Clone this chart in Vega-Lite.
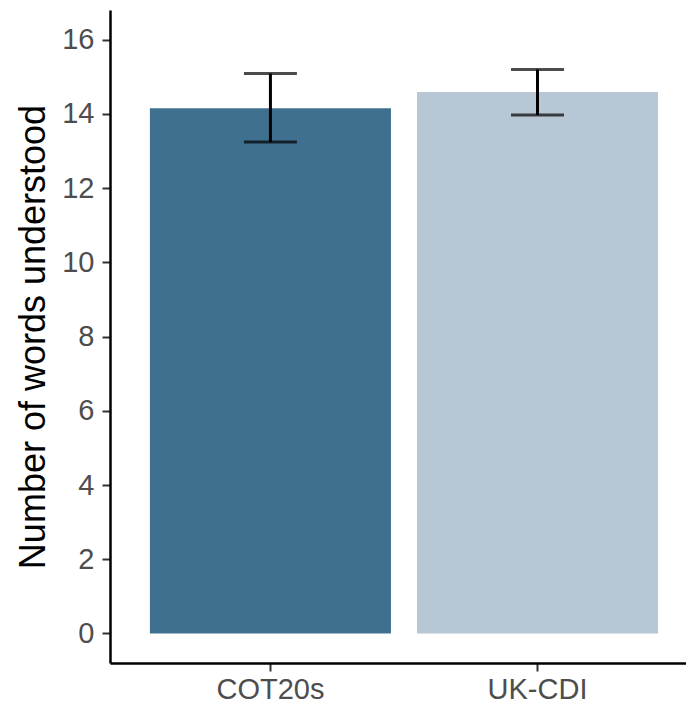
{
  "$schema": "https://vega.github.io/schema/vega-lite/v6.json",
  "width": 576,
  "height": 653,
  "autosize": {"type": "none"},
  "padding": {"left": 110, "top": 10, "right": 0, "bottom": 41},
  "background": "white",
  "config": {
    "view": {"stroke": null},
    "font": "Liberation Sans",
    "axis": {
      "grid": false,
      "domainColor": "#000000",
      "domainWidth": 2.5,
      "tickColor": "#333333",
      "tickWidth": 2,
      "tickSize": 8,
      "labelColor": "#4D4D4D",
      "labelFont": "Liberation Sans",
      "labelFontSize": 29,
      "titleFont": "Liberation Sans",
      "titleFontWeight": "normal",
      "titleColor": "#000000",
      "titleFontSize": 36
    }
  },
  "data": {
    "values": [
      {"group": "COT20s", "mean": 14.15, "lower": 13.24, "upper": 15.09},
      {"group": "UK-CDI", "mean": 14.59, "lower": 13.97, "upper": 15.2}
    ]
  },
  "encoding": {
    "x": {
      "field": "group",
      "type": "nominal",
      "sort": null,
      "scale": {"paddingInner": 0.0974, "paddingOuter": 0.127, "align": 0.588},
      "axis": {"title": null, "labelAngle": 0, "labelPadding": 4}
    }
  },
  "layer": [
    {
      "mark": {"type": "bar"},
      "encoding": {
        "y": {
          "field": "mean",
          "type": "quantitative",
          "scale": {"domain": [-0.795, 16.8], "nice": false, "zero": false},
          "axis": {
            "title": "Number of words understood",
            "values": [0, 2, 4, 6, 8, 10, 12, 14, 16],
            "labelPadding": 8,
            "titleAngle": -90,
            "titleX": -77,
            "titleY": 326.5,
            "titleAlign": "center",
            "titleBaseline": "middle"
          }
        },
        "y2": {"datum": 0},
        "color": {
          "field": "group",
          "type": "nominal",
          "scale": {"domain": ["COT20s", "UK-CDI"], "range": ["#40708F", "#B7C7D6"]},
          "legend": null
        }
      }
    },
    {
      "mark": {"type": "rule", "color": "#000000", "strokeWidth": 3},
      "encoding": {
        "y": {"field": "lower", "type": "quantitative"},
        "y2": {"field": "upper"}
      }
    },
    {
      "mark": {"type": "tick", "color": "#000000", "thickness": 3, "size": 53},
      "encoding": {"y": {"field": "lower", "type": "quantitative"}}
    },
    {
      "mark": {"type": "tick", "color": "#000000", "thickness": 3, "size": 53},
      "encoding": {"y": {"field": "upper", "type": "quantitative"}}
    }
  ]
}
